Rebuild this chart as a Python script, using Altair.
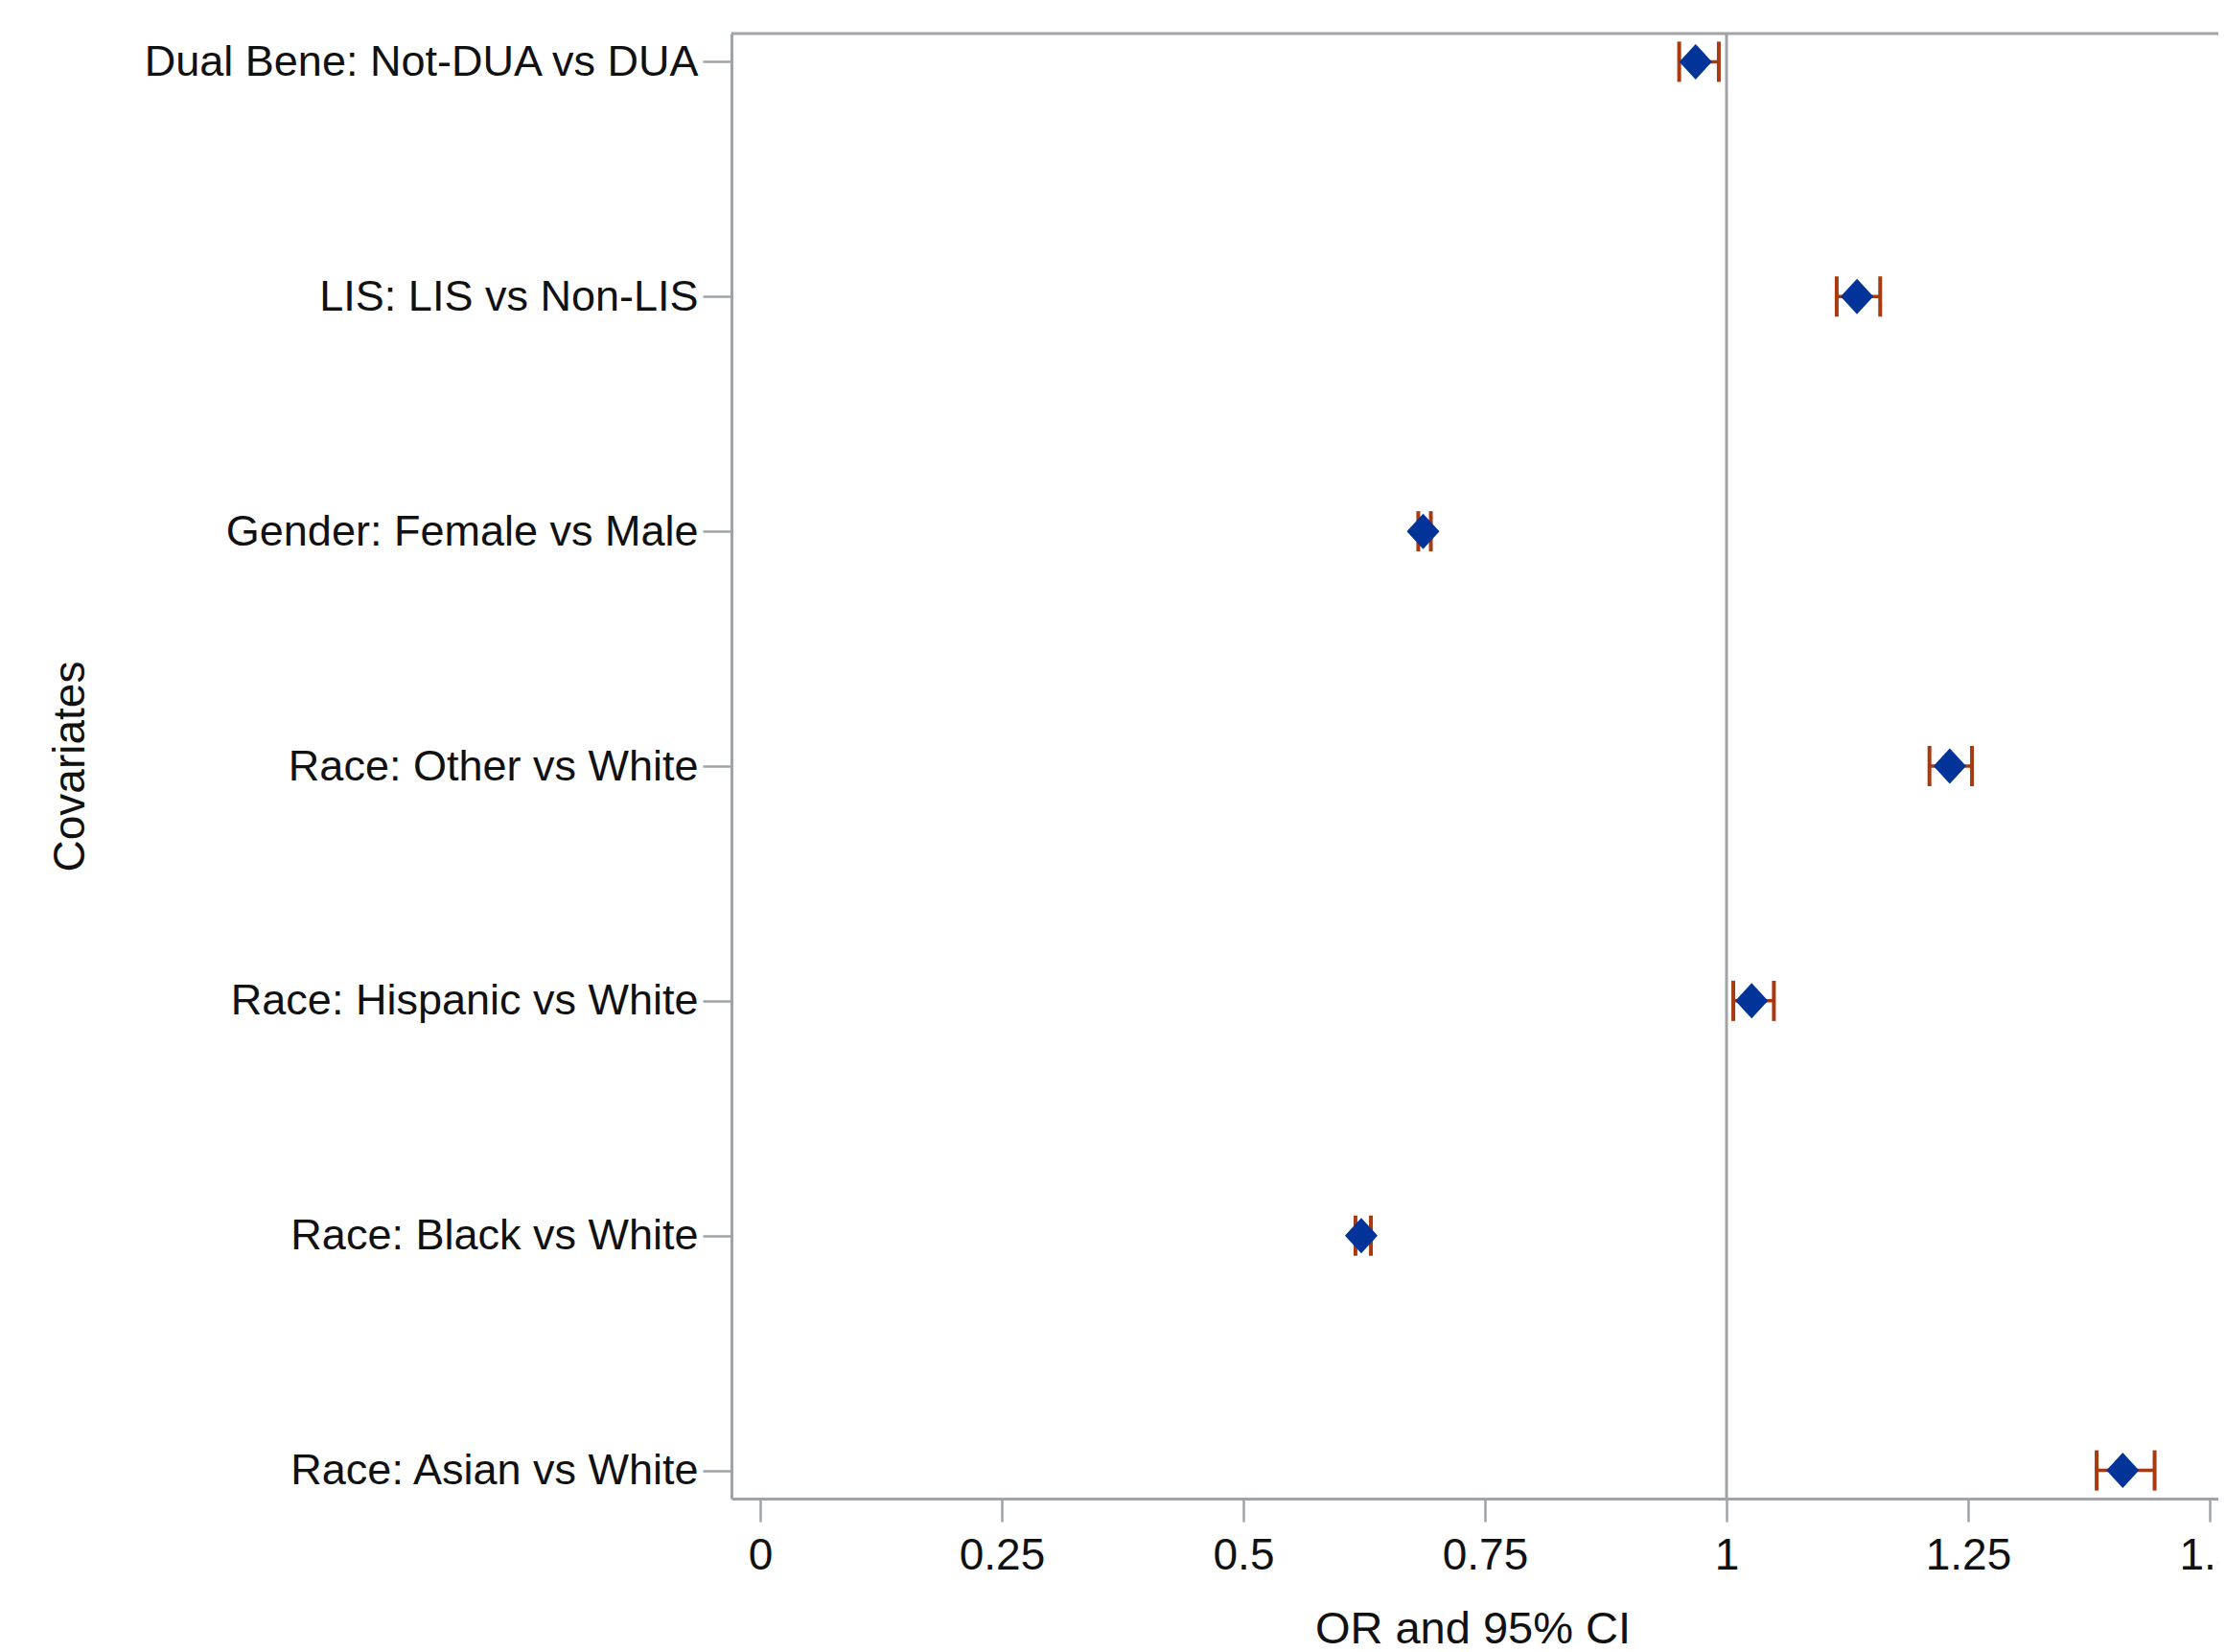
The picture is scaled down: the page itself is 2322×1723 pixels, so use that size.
import altair as alt
import pandas as pd

labels = [
    "Dual Bene: Not-DUA vs DUA",
    "LIS: LIS vs Non-LIS",
    "Gender: Female vs Male",
    "Race: Other vs White",
    "Race: Hispanic vs White",
    "Race: Black vs White",
    "Race: Asian vs White",
]
or_vals = [0.968, 1.135, 0.686, 1.231, 1.026, 0.622, 1.410]
ci_lo = [0.951, 1.114, 0.681, 1.210, 1.007, 0.616, 1.383]
ci_hi = [0.992, 1.159, 0.694, 1.254, 1.049, 0.632, 1.443]
x_ticks = [0, 0.25, 0.5, 0.75, 1, 1.25, 1.5]

df = pd.DataFrame({"label": labels, "or": or_vals, "lo": ci_lo, "hi": ci_hi})

W = 1551
H = 1528
GRAY = "#A0A4A8"
RED = "#A83A12"
BLUE = "#023399"
FONT = "Liberation Sans"

xscale = alt.Scale(domain=[-0.02976, 1.50893], nice=False, zero=False)
yscale = alt.Scale(type="point", padding=0.12)

xaxis = alt.Axis(
    values=x_ticks, grid=False, labelFlush=False, labelOverlap=False,
    labelExpr="format(datum.value, '~g')",
    tickSize=24, tickWidth=2.5, tickColor=GRAY, domainColor=GRAY, domainWidth=3,
    labelFont=FONT, labelFontSize=46, labelColor="#111111", labelPadding=13,
    title="OR and 95% CI", titleFont=FONT, titleFontSize=47, titleFontWeight="normal",
    titleColor="#111111", titleBaseline="alphabetic", titleY=150, titleX=773,
)
yaxis = alt.Axis(
    grid=False, tickSize=30, tickWidth=2.5, tickColor=GRAY, domainColor=GRAY, domainWidth=3,
    labelFont=FONT, labelFontSize=45, labelColor="#111111", labelPadding=5, labelLimit=1000,
    title="Covariates", titleFont=FONT, titleFontSize=46, titleFontWeight="normal",
    titleColor="#111111", titleX=-690, titleY=H / 2, titleBaseline="middle", titleAngle=270,
)

base = alt.Chart(df)

y_enc = alt.Y("label:N", sort=labels, scale=yscale, axis=yaxis)

refline = alt.Chart(pd.DataFrame({"v": [1]})).mark_rule(color=GRAY, strokeWidth=3).encode(
    x=alt.X("v:Q", scale=xscale, axis=xaxis)
)
topline = alt.Chart(pd.DataFrame({"v": [0]})).mark_rule(color=GRAY, strokeWidth=3).encode(
    x=alt.value(0), x2=alt.value(W), y=alt.value(0)
)
bars = base.mark_rule(color=RED, strokeWidth=3.5).encode(
    x=alt.X("lo:Q", scale=xscale, axis=xaxis), x2="hi:Q", y=y_enc
)
cap_lo = base.mark_tick(color=RED, thickness=4, size=42, orient="vertical", opacity=1).encode(
    x=alt.X("lo:Q", scale=xscale, axis=xaxis), y=y_enc
)
cap_hi = base.mark_tick(color=RED, thickness=4, size=42, orient="vertical", opacity=1).encode(
    x=alt.X("hi:Q", scale=xscale, axis=xaxis), y=y_enc
)
pts = base.mark_point(
    shape="M0,-1L0.92,0L0,1L-0.92,0Z", filled=True, color=BLUE, opacity=1, size=1369
).encode(x=alt.X("or:Q", scale=xscale, axis=xaxis), y=y_enc)

chart = alt.layer(refline, topline, bars, cap_lo, cap_hi, pts).properties(
    width=W, height=H,
    autosize=alt.AutoSizeParams(type="none"),
    padding={"left": 755, "top": 27, "right": 0, "bottom": 160},
).configure_view(stroke=None).configure(background="white")

chart.save("out.html", embed_options={"renderer": "svg", "actions": False})
